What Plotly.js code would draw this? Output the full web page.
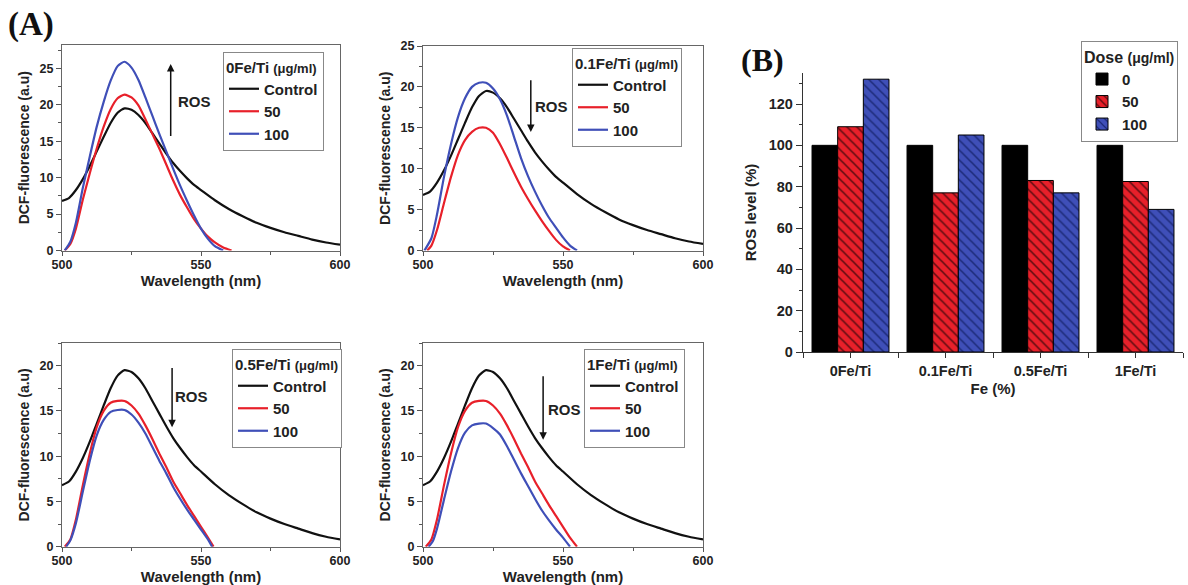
<!DOCTYPE html>
<html>
<head>
<meta charset="utf-8">
<script src="https://cdn.plot.ly/plotly-3.0.1.min.js"></script>
<style>
html,body{margin:0;padding:0;background:#fff;}
#chart{width:1188px;height:585px;}
</style>
</head>
<body>
<div id="chart"></div>
<script>
// ---------- Data ----------
// Control spectrum (same untreated control in all four panels)
const wlControl = [500,502.5,505,507.5,510,512.5,515,517.5,520,522.5,525,527.5,530,532.5,535,537.5,540,542.5,545,547.5,550,555,560,565,570,575,580,585,590,595,600];
const control   = [6.8,7.2,8.3,9.8,11.6,13.6,15.6,17.5,18.9,19.5,19.3,18.6,17.5,16.1,14.7,13.3,12.0,10.9,9.9,9.0,8.3,6.9,5.7,4.7,3.8,3.1,2.5,2.0,1.5,1.1,0.8];

// Panel 0Fe/Ti
const wl0_50   = [501,503,505,507.5,510,512.5,515,517.5,520,522.5,525,527.5,530,532.5,535,537.5,540,542.5,545,547.5,550,552.5,555,558,561];
const fe0_50   = [0,0.9,3.0,7.0,10.6,14.0,17.0,19.4,20.9,21.4,21.0,19.9,18.0,16.0,14.0,11.8,9.6,7.6,5.9,4.3,3.0,1.9,1.1,0.4,0];
const wl0_100  = [501,503,505,507.5,510,512.5,515,517.5,520,522.5,525,527.5,530,532.5,535,537.5,540,542.5,545,547.5,550,552.5,555,558];
const fe0_100  = [0,1.2,3.8,8.6,12.9,17.0,20.4,23.3,25.3,25.9,25.1,23.4,21.0,18.5,16.0,13.6,11.2,8.9,6.8,4.8,3.0,1.6,0.6,0];

// Panel 0.1Fe/Ti
const wl01_50  = [501.5,503,505,507.5,510,512.5,515,517.5,520,522.5,525,527.5,530,532.5,535,537.5,540,542.5,545,547.5,550,552.5];
const fe01_50  = [0,0.6,2.5,5.8,9.0,11.7,13.5,14.5,15.0,15.0,14.4,13.0,11.3,9.5,7.8,6.3,4.9,3.6,2.4,1.3,0.5,0];
const wl01_100 = [500.5,503,505,507.5,510,512.5,515,517.5,520,522.5,525,527.5,530,532.5,535,537.5,540,542.5,545,547.5,550,552.5,555];
const fe01_100 = [0,1.5,4.4,9.0,13.0,16.3,18.6,20.0,20.5,20.5,19.8,18.5,16.5,13.9,11.3,9.1,7.2,5.5,4.0,2.8,1.6,0.6,0];

// Panel 0.5Fe/Ti
const wl05_50  = [501,503,505,507.5,510,512.5,515,517.5,520,522.5,525,527.5,530,532.5,535,537.5,540,542.5,545,547.5,550,552.5,554.5];
const fe05_50  = [0,0.8,3.0,6.8,10.3,13.2,15.0,15.9,16.1,16.1,15.6,14.7,13.4,11.9,10.3,8.8,7.2,5.9,4.6,3.4,2.2,1.0,0];
const wl05_100 = [501.5,503,505,507.5,510,512.5,515,517.5,520,522.5,525,527.5,530,532.5,535,537.5,540,542.5,545,547.5,550,552.5,554];
const fe05_100 = [0,0.7,2.6,6.1,9.5,12.3,14.0,14.9,15.1,15.1,14.6,13.7,12.5,11.0,9.5,8.1,6.6,5.3,4.1,3.0,1.9,0.8,0];

// Panel 1Fe/Ti
const wl1_50   = [501,503,505,507.5,510,512.5,515,517.5,520,522.5,525,527.5,530,532.5,535,537.5,540,542.5,545,547.5,550,552.5,555];
const fe1_50   = [0,0.8,3.0,6.8,10.3,13.2,15.0,15.9,16.1,16.1,15.6,14.7,13.4,11.9,10.3,8.8,7.2,5.9,4.6,3.4,2.2,1.0,0];
const wl1_100  = [502,503.5,505,507.5,510,512.5,515,517.5,520,522.5,525,527.5,530,532.5,535,537.5,540,542.5,545,547.5,550,552.5];
const fe1_100  = [0,0.6,2.0,5.2,8.3,10.9,12.6,13.4,13.6,13.6,13.1,12.4,11.1,9.6,8.1,6.7,5.3,4.0,2.9,1.9,1.0,0];

// Panel B: ROS level (%)
const barCategories = ['0Fe/Ti','0.1Fe/Ti','0.5Fe/Ti','1Fe/Ti'];
const dose0   = [100,100,100,100];
const dose50  = [109,77,83,82.5];
const dose100 = [132,105,77,69];

const panelNames = ['0Fe/Ti','0.1Fe/Ti','0.5Fe/Ti','1Fe/Ti'];
const seriesNames = ['Control','50','100'];
const doseNames = ['0','50','100'];

// ---------- Styling ----------
const FONT = 'Liberation Sans, Arial, sans-serif';
const SERIF = 'Liberation Serif, Times New Roman, serif';
const BLACK = '#111111', RED = '#e8202a', BLUE = '#3f4fb8';
const W = 1188, H = 585;
const px = v => v / W;
const py = v => 1 - v / H;

const panels = [
  {name: panelNames[0], sets: [[wlControl, control],[wl0_50, fe0_50],[wl0_100, fe0_100]]},
  {name: panelNames[1], sets: [[wlControl, control],[wl01_50, fe01_50],[wl01_100, fe01_100]]},
  {name: panelNames[2], sets: [[wlControl, control],[wl05_50, fe05_50],[wl05_100, fe05_100]]},
  {name: panelNames[3], sets: [[wlControl, control],[wl1_50, fe1_50],[wl1_100, fe1_100]]}
];
const colors = [BLACK, RED, BLUE];

// pixel boxes for panels (left, right, top, bottom)
const boxes = [
  [62, 340, 45, 250.5],
  [423, 703, 46, 250.5],
  [62, 340, 343, 546.7],
  [423, 703, 343, 546.7]
];
const yRanges = [[0, 28.2],[0, 25],[0, 22.5],[0, 22.5]];
const legendPos = [[223, 52],[572, 48],[232, 349],[584, 349]];

const traces = [];
panels.forEach((p, i) => {
  const ax = i === 0 ? '' : String(i + 1);
  p.sets.forEach((s, k) => {
    traces.push({
      type: 'scatter', mode: 'lines',
      x: s[0], y: s[1],
      name: seriesNames[k],
      xaxis: 'x' + ax, yaxis: 'y' + ax,
      legend: 'legend' + ax,
      line: {color: colors[k], width: 2.2, shape: 'spline', smoothing: 0.6},
      hoverinfo: 'skip'
    });
  });
});

const barFill = ['#000000', RED, BLUE];
const barHatch = ['#000000', '#5a0c10', '#1c2a78'];
[dose0, dose50, dose100].forEach((vals, k) => {
  const m = {color: barFill[k], line: {color: '#000', width: 1}};
  if (k > 0) m.pattern = {shape: '\\', bgcolor: barFill[k], fgcolor: barHatch[k], size: 7, solidity: 0.22, fillmode: 'replace'};
  traces.push({
    type: 'bar',
    x: barCategories.map((c, i) => i),
    y: vals,
    name: doseNames[k],
    xaxis: 'x5', yaxis: 'y5',
    legend: 'legend5',
    marker: m,
    hoverinfo: 'skip'
  });
});

const layout = {
  width: W, height: H,
  margin: {l: 0, r: 0, t: 0, b: 0},
  paper_bgcolor: '#fff', plot_bgcolor: '#fff',
  font: {family: FONT, color: '#222', weight: 'bold'},
  showlegend: true,
  barmode: 'group', bargap: 0.19, bargroupgap: 0,
  annotations: [],
  hovermode: false
};

const tickFont = {family: FONT, size: 12.5, color: '#222', weight: 'bold'};
boxes.forEach((b, i) => {
  const ax = i === 0 ? '' : String(i + 1);
  layout['xaxis' + ax] = {
    domain: [px(b[0]), px(b[1])], anchor: 'y' + ax,
    range: [500, 600], tickvals: [500, 550, 600],
    ticks: 'outside', ticklen: 4, tickwidth: 1, tickcolor: '#555',
    minor: {ticks: 'outside', tickvals: [525, 575], ticklen: 3, tickcolor: '#555'},
    ticklabelstandoff: -2,
    showline: true, linecolor: '#666', linewidth: 1, mirror: true,
    showgrid: false, zeroline: false, tickfont: tickFont,
    title: {text: 'Wavelength (nm)', font: {family: FONT, size: 15, weight: 'bold', color: '#222'}, standoff: 1}
  };
  layout['yaxis' + ax] = {
    domain: [py(b[3]), py(b[2])], anchor: 'x' + ax,
    range: yRanges[i], dtick: 5,
    ticks: 'outside', ticklen: 5, tickwidth: 1, tickcolor: '#555',
    minor: {ticks: 'outside', dtick: 2.5, ticklen: 3, tickcolor: '#555'},
    showline: true, linecolor: '#666', linewidth: 1, mirror: true,
    showgrid: false, zeroline: false, tickfont: tickFont,
    title: {text: 'DCF-fluorescence (a.u)', font: {family: FONT, size: 14, weight: 'bold', color: '#222'}, standoff: 6}
  };
  const lp = legendPos[i];
  layout['legend' + ax] = {
    x: px(lp[0]), y: py(lp[1]), xanchor: 'left', yanchor: 'top',
    bgcolor: '#fff', bordercolor: '#888', borderwidth: 1,
    font: {family: FONT, size: 15, weight: 'bold', color: '#222'},
    title: {text: panelNames[i] + ' <span style="font-size:13px">(\u03bcg/ml)</span>', side: 'top',
            font: {family: FONT, size: 15, weight: 'bold', color: '#222'}},
    tracegroupgap: 0, itemwidth: 30, itemclick: false, itemdoubleclick: false
  };
});

// Bar chart axes
layout.xaxis5 = {
  domain: [px(803), px(1183)], anchor: 'y5',
  range: [-0.5, 3.5],
  tickvals: barCategories.map((c, i) => i), ticktext: barCategories,
  ticks: 'outside', ticklen: 5, tickcolor: '#333',
  minor: {ticks: 'outside', tickvals: [-0.5, 0.5, 1.5, 2.5, 3.5], ticklen: 5, tickcolor: '#333'},
  showline: true, linecolor: '#333', linewidth: 1.2,
  showgrid: false, zeroline: false,
  tickfont: {family: FONT, size: 14.5, weight: 'bold', color: '#222'},
  title: {text: 'Fe (%)', font: {family: FONT, size: 15, weight: 'bold', color: '#222'}, standoff: 6}
};
layout.yaxis5 = {
  domain: [py(352), py(73)], anchor: 'x5',
  range: [0, 135], dtick: 20,
  ticks: 'outside', ticklen: 6, tickcolor: '#333',
  minor: {ticks: 'outside', dtick: 10, ticklen: 3, tickcolor: '#333'},
  showline: true, linecolor: '#333', linewidth: 1.2,
  showgrid: false, zeroline: false,
  tickfont: {family: FONT, size: 14.5, weight: 'bold', color: '#222'},
  title: {text: 'ROS level (%)', font: {family: FONT, size: 15, weight: 'bold', color: '#222'}, standoff: 8}
};
layout.legend5 = {
  x: px(1081), y: py(41), xanchor: 'left', yanchor: 'top',
  bgcolor: '#fff', bordercolor: '#888', borderwidth: 1,
  font: {family: FONT, size: 15, weight: 'bold', color: '#222'},
  title: {text: 'Dose <span style="font-size:14px">(\u03bcg/ml)</span>', side: 'top',
          font: {family: FONT, size: 16, weight: 'bold', color: '#222'}},
  tracegroupgap: 0, itemwidth: 30
};

// ROS arrows: [axis suffix, x, yTail, yHead, textX, textY]
const arrows = [
  ['', 539.1, 15.5, 25.6, 547.7, 20.5],
  ['2', 538.5, 21.0, 14.5, 545.8, 17.6],
  ['3', 539.6, 19.9, 13.2, 546.7, 16.6],
  ['4', 542.9, 19.0, 11.8, 550.4, 15.1]
];
arrows.forEach(a => {
  layout.annotations.push({
    xref: 'x' + a[0], yref: 'y' + a[0], axref: 'x' + a[0], ayref: 'y' + a[0],
    x: a[1], y: a[3], ax: a[1], ay: a[2], text: '',
    showarrow: true, arrowhead: 2, arrowsize: 1, arrowwidth: 1.5, arrowcolor: '#111'
  });
  layout.annotations.push({
    xref: 'x' + a[0], yref: 'y' + a[0], x: a[4], y: a[5], text: 'ROS', showarrow: false,
    font: {family: FONT, size: 15, weight: 'bold', color: '#222'}
  });
});
layout.annotations.push({xref: 'paper', yref: 'paper', x: px(6), y: py(25), xanchor: 'left', yanchor: 'middle',
  text: '(A)', showarrow: false, font: {family: SERIF, size: 33, weight: 'bold', color: '#111'}});
layout.annotations.push({xref: 'paper', yref: 'paper', x: px(739), y: py(60), xanchor: 'left', yanchor: 'middle',
  text: '(B)', showarrow: false, font: {family: SERIF, size: 32, weight: 'bold', color: '#111'}});

Plotly.newPlot('chart', traces, layout, {displayModeBar: false, staticPlot: true});
</script>
</body>
</html>
